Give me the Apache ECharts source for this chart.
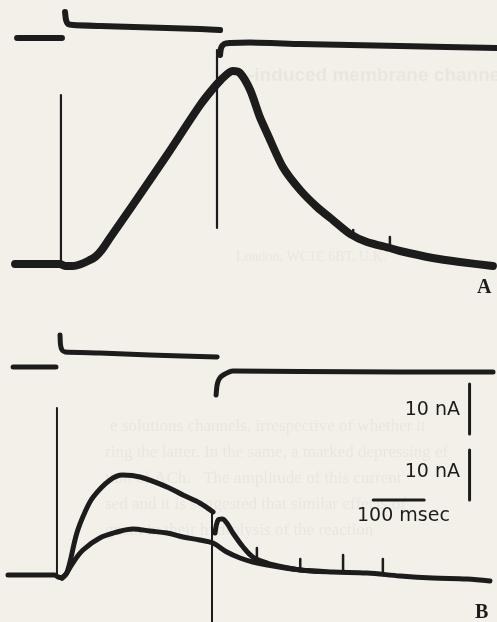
<!DOCTYPE html>
<html>
<head>
<meta charset="utf-8">
<script src="https://cdn.jsdelivr.net/npm/echarts@6/dist/echarts.min.js"></script>
<style>
html,body{margin:0;padding:0;background:#f3f0ea;}
#chart{width:497px;height:622px;}
</style>
</head>
<body>
<div id="chart"></div>
<script>
// ---------- DATA (time in ms from pulse onset; current in nA; voltage as displacement in mV) ----------
// Panel A
var aVoltPre   = [[-90,0],[-2,0]];
var aVoltPulse = [[4,13],[6,9],[10,7],[20,6.5],[73,6],[171,5.25],[269,4.5],[308,4]];
var aVoltPost  = [[308,-8.5],[310,-5],[316,-3],[327,-2.5],[367,-2.25],[465,-3],[661,-4],[851,-5]];
var aCurrent   = [[-94,0],[-6,0],[4,-0.4],[20,-0.4],[33,-0.1],[49,0.6],[63,1.4],[76,2.8],[92,5.2],
                  [137,11.8],[204,21.8],[269,31.8],[302,36],[322,38],[333,38.6],[347,38.2],[367,34.8],
                  [386,29.4],[400,26.2],[431,19.4],[465,14.8],[498,11.4],[529,8.8],[563,6.0],[596,4.4],
                  [641,3.2],[661,2.6],[725,1.2],[778,0.4],[843,-0.4]];
var aTransOn   = [[-4,33.8],[-4,0]];
var aTransOff  = [[302,42.8],[302,7.2]];
var aSpikes    = [[[569,5.4],[569,6.8]],[[641,3.2],[641,5.4]]];

// Panel B
var bVoltPre   = [[-88,0],[-4,0]];
var bVoltPulse = [[4,16],[5,11],[8,8.5],[14,7.5],[82,7],[180,6],[312,5]];
var bVoltPost  = [[310,-14],[312,-9],[316,-6],[324,-4],[343,-2],[475,-2.25],[671,-2.5],[853,-2.5]];
var bBaseline  = [[-98,0],[-6,0],[0,-0.4],[8,-0.6]];
var bCurLarge  = [[8,-0.6],[18,0.6],[37,8.4],[53,12.6],[69,15.6],[102,19],[127,20],[161,19.6],
                  [214,17.6],[245,16],[278,14.4],[304,12.6]];
var bCurLargeTail = [[308,8.4],[314,11],[322,11.2],[331,10.4],[343,8.4],[363,5.6],[382,3.6],
                  [410,2.4],[441,1.6],[475,1],[520,0.7]];
var bCurSmall  = [[8,-0.6],[16,0.2],[29,2.4],[49,5],[82,7.4],[116,8.6],[147,9.2],[180,8.8],[214,8.4],
                  [245,7.6],[278,7],[304,6.4],[331,4.6],[357,3.4],[382,2.6],[410,2],[475,1],[539,0.6],
                  [606,0.4],[671,-0.2],[735,-0.6],[802,-0.8],[847,-1.2]];
var bTransOn   = [[-2,33.4],[-2,0]];
var bTransOff  = [[302,12.4],[302,-9.4]];
var bSpikes    = [[[390,3],[390,5.4]],[[475,1],[475,3.2]],[[559,0.6],[559,4]],[[637,0],[637,3.2]]];

// Scale bars (panel B axes)
var scaleBar1  = [[807,28.2],[807,38.2]];   // 10 nA
var scaleBar2  = [[807,15],[807,25]];       // 10 nA
var scaleBarT  = [[618,15],[718,15]];       // 100 msec
var scaleLabels = ['10 nA','10 nA','100 msec'];
var panelLabels = ['A','B'];

// ---------- CHART ----------
var ink = '#1c1c1c';
var chart = echarts.init(document.getElementById('chart'), null, {renderer:'canvas'});

function trace(data, xi, yi, w, smooth){
  return {type:'line', data:data, xAxisIndex:xi, yAxisIndex:yi, showSymbol:false, symbol:'none',
          smooth:smooth||false, silent:true, animation:false,
          lineStyle:{color:ink, width:w, cap:'round', join:'round'}, z:3};
}
var series = [];
// Panel A (grid 0): x0, y0 current, y1 voltage
series.push(trace(aVoltPre,0,1,6));
series.push(trace(aVoltPulse,0,1,6,0.2));
series.push(trace(aVoltPost,0,1,6,0.2));
series.push(trace(aCurrent,0,0,8,0.25));
series.push(trace(aTransOn,0,0,2.2));
series.push(trace(aTransOff,0,0,2.2));
aSpikes.forEach(function(s){ series.push(trace(s,0,0,2.5)); });
// Panel B (grid 1): x1, y2 current, y3 voltage
series.push(trace(bVoltPre,1,3,5));
series.push(trace(bVoltPulse,1,3,5,0.2));
series.push(trace(bVoltPost,1,3,5,0.2));
series.push(trace(bBaseline,1,2,5));
series.push(trace(bCurLarge,1,2,5,0.35));
series.push(trace(bCurLargeTail,1,2,5,0.35));
series.push(trace(bCurSmall,1,2,5,0.35));
series.push(trace(bTransOn,1,2,2));
series.push(trace(bTransOff,1,2,2));
bSpikes.forEach(function(s){ series.push(trace(s,1,2,2.5)); });
series.push(trace(scaleBar1,1,2,3));
series.push(trace(scaleBar2,1,2,3));
series.push(trace(scaleBarT,1,2,3));

var faint = '#e9e6df';
var option = {
  backgroundColor:'#f3f0ea',
  animation:false,
  grid:[
    {left:0, top:0, width:497, height:300},
    {left:0, top:300, width:497, height:322}
  ],
  xAxis:[
    {type:'value', gridIndex:0, min:-123.5, max:851, show:false},
    {type:'value', gridIndex:1, min:-113.7, max:860.8, show:false}
  ],
  yAxis:[
    {type:'value', gridIndex:0, min:-7.2, max:52.8, show:false},
    {type:'value', gridIndex:0, min:-131, max:19, show:false},
    {type:'value', gridIndex:1, min:-9.4, max:55, show:false},
    {type:'value', gridIndex:1, min:-127.5, max:33.5, show:false}
  ],
  graphic:[
    // faint show-through from the facing page
    {type:'text', left:248, top:66, z:0, silent:true,
     style:{text:'-induced membrane channels', font:'bold 19px "Liberation Sans"', fill:faint}},
    {type:'text', left:236, top:250, z:0, silent:true,
     style:{text:'London, WC1E 6BT, U.K.', font:'14px "Liberation Serif"', fill:faint}},
    {type:'text', left:110, top:418, z:0, silent:true,
     style:{text:'e solutions channels, irrespective of whether it', font:'17px "Liberation Serif"', fill:faint}},
    {type:'text', left:105, top:444, z:0, silent:true,
     style:{text:'ring the latter. In the same, a marked depressing ef', font:'17px "Liberation Serif"', fill:faint}},
    {type:'text', left:105, top:470, z:0, silent:true,
     style:{text:'tion of ACh.   The amplitude of this current', font:'17px "Liberation Serif"', fill:faint}},
    {type:'text', left:105, top:496, z:0, silent:true,
     style:{text:'sed and it is suggested that similar effects of', font:'17px "Liberation Serif"', fill:faint}},
    {type:'text', left:105, top:522, z:0, silent:true,
     style:{text:'gnant in their hydrolysis of the reaction', font:'17px "Liberation Serif"', fill:faint}},
    // scale bar labels
    {type:'text', right:37, top:401, z:10,
     style:{text:scaleLabels[0], font:'19px "DejaVu Sans"', fill:ink, textAlign:'right'}},
    {type:'text', right:37, top:463, z:10,
     style:{text:scaleLabels[1], font:'19px "DejaVu Sans"', fill:ink, textAlign:'right'}},
    {type:'text', left:357, top:507, z:10,
     style:{text:scaleLabels[2], font:'19px "DejaVu Sans"', fill:ink}},
    // panel labels
    {type:'text', left:477, top:278, z:10,
     style:{text:panelLabels[0], font:'bold 20px "Liberation Serif"', fill:ink}},
    {type:'text', left:475, top:603, z:10,
     style:{text:panelLabels[1], font:'bold 20px "Liberation Serif"', fill:ink}}
  ],
  series:series
};
chart.setOption(option);
</script>
</body>
</html>
